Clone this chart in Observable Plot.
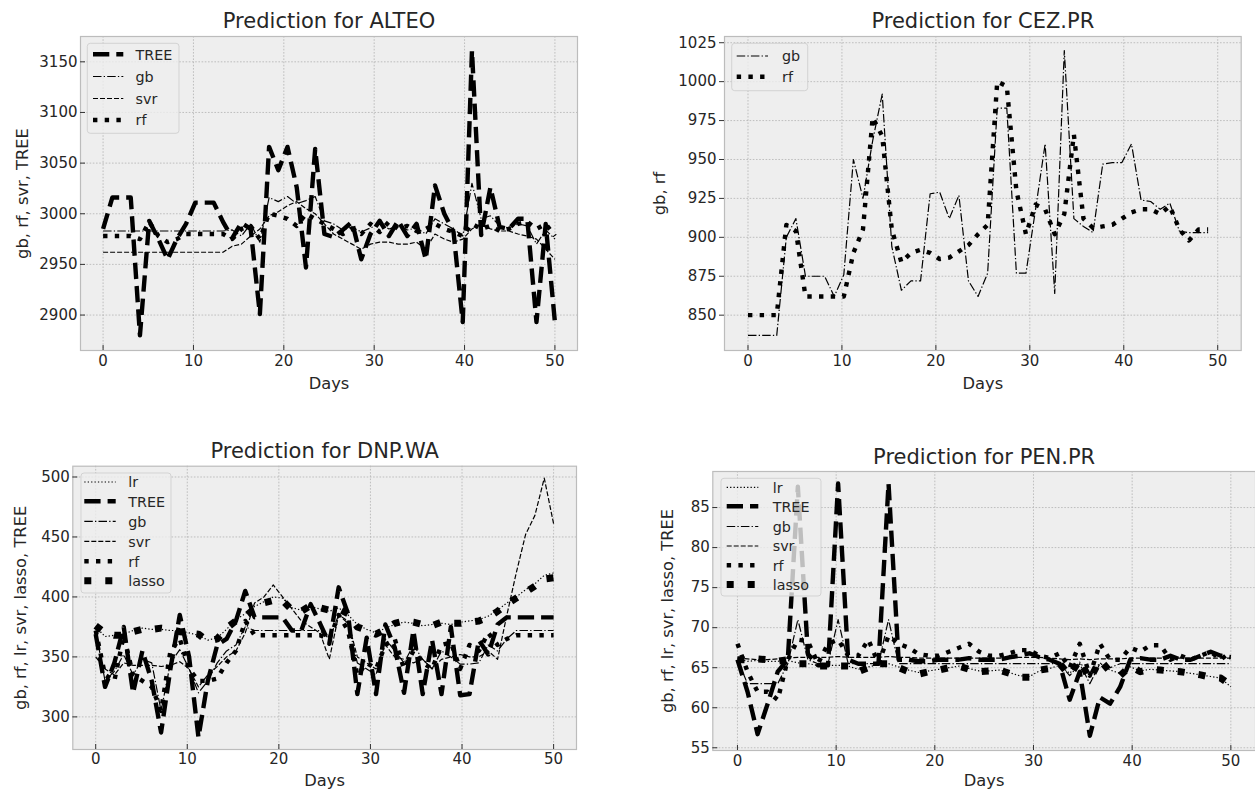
<!DOCTYPE html>
<html><head><meta charset="utf-8">
<script src="https://cdn.jsdelivr.net/npm/d3@7"></script>
<script src="https://cdn.jsdelivr.net/npm/@observablehq/plot@0.6"></script>
<style>
html,body{margin:0;padding:0;background:#fff;}
#wrap{position:relative;width:1255px;height:789px;overflow:hidden;font-family:"DejaVu Sans";}
.panel{position:absolute;}
#legend{position:absolute;left:0;top:0;pointer-events:none;}
</style></head><body><div id="wrap"></div>
<script>
// ---------- DATA ----------
const days = [0, 1.02, 2.04, 3.06, 4.08, 5.10, 6.12, 7.14, 8.16, 9.18, 10.20, 11.22, 12.24, 13.27, 14.29, 15.31, 16.33, 17.35, 18.37, 19.39, 20.41, 21.43, 22.45, 23.47, 24.49, 25.51, 26.53, 27.55, 28.57, 29.59, 30.61, 31.63, 32.65, 33.67, 34.69, 35.71, 36.73, 37.76, 38.78, 39.80, 40.82, 41.84, 42.86, 43.88, 44.90, 45.92, 46.94, 47.96, 48.98, 50];
const dayTicks = [0, 10, 20, 30, 40, 50];

// ALTEO
const alteoTicks = [2900, 2950, 3000, 3050, 3100, 3150];
const alteoTREE = [2985, 3016, 3016, 3016, 2880, 2993, 2975, 2955, 2975, 2990, 3011, 3011, 3011, 2992, 2976, 2991, 2985, 2901, 3066, 3043, 3066, 3026, 2947, 3064, 2980, 2977, 2984, 2992, 2955, 2980, 2993, 2978, 2993, 2978, 2990, 2955, 3028, 3000, 2982, 2893, 3161, 2979, 3026, 2987, 2985, 2995, 2995, 2893, 2990, 2893];
const alteoGB = [2983, 2983, 2983, 2983, 2983, 2983, 2983, 2983, 2983, 2983, 2983, 2983, 2983, 2983, 2984, 2978, 2990, 2972, 3016, 3012, 3017, 3010, 3013, 3017, 2993, 2990, 2984, 2987, 2982, 2986, 2990, 2985, 2988, 2984, 2986, 2980, 2995, 2990, 2985, 2978, 3030, 2995, 2998, 2988, 2986, 2990, 2988, 2970, 2984, 2975];
const alteoSVR = [2962, 2962, 2962, 2962, 2962, 2962, 2962, 2962, 2962, 2962, 2962, 2962, 2962, 2962, 2968, 2970, 2978, 2985, 2998, 3002, 3008, 3012, 3005, 3000, 2990, 2980, 2975, 2970, 2965, 2970, 2972, 2972, 2970, 2970, 2972, 2965, 2980, 2975, 2972, 2975, 2985, 2990, 2985, 2983, 2983, 2980, 2978, 2975, 2965, 2955];
const alteoRF = [2978, 2978, 2978, 2978, 2975, 2992, 2978, 2972, 2975, 2980, 2980, 2980, 2980, 2980, 2975, 2985, 2988, 2975, 3000, 2998, 2995, 2988, 3000, 2995, 2990, 2985, 2980, 2985, 2980, 2990, 2982, 2992, 2985, 2988, 2983, 2985, 2990, 2985, 2982, 2978, 2990, 2985, 2988, 2983, 2985, 2990, 2992, 2985, 2990, 2978];

// CEZ.PR
const cezTicks = [850, 875, 900, 925, 950, 975, 1000, 1025];
const cezGB = [837, 837, 837, 837, 900, 912, 875, 875, 875, 862, 876, 950, 925, 962, 992, 894, 866, 872, 872, 928, 929, 912, 927, 872, 862, 877, 983, 983, 877, 877, 918, 960, 864, 1020, 912, 907, 903, 947, 948, 948, 960, 924, 923, 918, 922, 904, 903, 903, 903];
const cezRF = [850, 850, 850, 850, 908, 904, 862, 862, 862, 862, 862, 890, 905, 977, 965, 905, 884, 890, 892, 890, 886, 887, 891, 895, 902, 908, 1000, 997, 930, 902, 921, 918, 902, 915, 966, 912, 906, 907, 908, 912, 916, 918, 918, 915, 920, 905, 898, 905, 905];

// DNP.WA
const dnpTicks = [300, 350, 400, 450, 500];
const dnpLR = [375, 367, 368, 369, 372, 374, 373, 373, 372, 372, 370, 368, 364, 366, 373, 381, 386, 392, 396, 400, 399, 391, 389, 392, 390, 388, 391, 385, 377, 373, 370, 374, 377, 379, 378, 376, 377, 378, 377, 379, 380, 381, 384, 389, 395, 400, 406, 411, 418, 420];
const dnpTREE = [369, 325, 345, 375, 320, 355, 330, 287, 340, 385, 350, 283, 330, 360, 365, 380, 405, 383, 383, 383, 383, 372, 372, 394, 378, 361, 408, 386, 319, 366, 319, 377, 358, 320, 372, 319, 364, 319, 375, 318, 319, 364, 352, 377, 383, 383, 383, 383, 383, 383];
const dnpGB = [372, 330, 338, 352, 335, 348, 345, 305, 345, 356, 340, 320, 330, 345, 355, 360, 375, 372, 372, 372, 372, 372, 372, 372, 372, 365, 385, 378, 345, 340, 335, 365, 355, 345, 360, 348, 340, 355, 350, 344, 344, 345, 360, 355, 365, 372, 372, 372, 372, 372];
const dnpSVR = [350, 340, 335, 345, 343, 343, 343, 342, 343, 346, 340, 325, 335, 342, 350, 355, 370, 395, 400, 410, 400, 390, 380, 375, 370, 348, 385, 380, 350, 345, 340, 360, 350, 348, 345, 348, 340, 348, 350, 352, 350, 350, 355, 348, 385, 420, 452, 468, 499, 461];
const dnpRF = [372, 335, 330, 368, 335, 330, 325, 305, 355, 365, 340, 330, 330, 332, 345, 355, 380, 368, 368, 368, 368, 368, 368, 368, 368, 365, 385, 372, 335, 345, 340, 360, 365, 340, 355, 345, 340, 360, 362, 340, 360, 355, 370, 360, 365, 368, 368, 368, 368, 368];
const dnpLASSO = [376, 370, 368, 368, 371, 373, 373, 374, 373, 371, 370, 369, 363, 365, 374, 380, 384, 390, 395, 397, 397, 389, 388, 393, 391, 389, 390, 386, 375, 372, 369, 373, 378, 380, 379, 377, 376, 379, 378, 378, 379, 380, 383, 388, 394, 399, 404, 409, 415, 416];

// PEN.PR
const penTicks = [55, 60, 65, 70, 75, 80, 85];
const penLR = [66.1, 65.8, 65.9, 65.8, 65.8, 65.9, 65.6, 65.5, 65.3, 65.3, 65.3, 65.2, 64.8, 65.1, 65.4, 65.5, 65.1, 64.7, 64.4, 64.6, 64.8, 65.0, 65.2, 64.9, 64.6, 64.6, 64.7, 64.4, 64.0, 63.9, 64.6, 64.9, 65.3, 64.3, 65.7, 64.0, 65.6, 64.7, 64.3, 65.1, 64.6, 64.8, 64.7, 64.6, 64.5, 64.3, 64.1, 63.9, 63.7, 62.6];
const penTREE = [66, 62, 56.7, 60.5, 64.5, 66, 87.6, 66.7, 65.3, 65.3, 88, 66, 65.5, 65.5, 65.5, 88, 66, 66, 65.8, 65.8, 66, 66, 66, 66.2, 66, 66, 66, 66.3, 66.5, 66.8, 66.3, 66, 65.5, 61, 64.5, 56.5, 61.3, 60.5, 62.6, 66, 66.2, 66, 66, 66.5, 66, 66, 66.5, 67, 66.5, 66.3];
const penGB = [66, 63, 63, 63, 63, 65.5, 71, 66, 65.5, 65.5, 71, 65.5, 65.5, 65.5, 65.5, 71, 65.5, 65.5, 65.5, 65.5, 65.5, 65.5, 65.5, 65.5, 65.5, 65.5, 65.5, 65.5, 65.5, 65.5, 65.5, 65.5, 65.5, 64, 65.5, 63, 65.5, 65, 65.5, 65.5, 65.5, 65.5, 65.5, 65.5, 65.5, 65.5, 65.5, 65.5, 65.5, 65.5];
const penSVR = [66.2, 66.1, 66.0, 66.0, 66.1, 66.2, 66.3, 66.3, 66.3, 66.3, 66.4, 66.3, 66.3, 66.3, 66.3, 66.4, 66.3, 66.3, 66.2, 66.2, 66.2, 66.2, 66.2, 66.2, 66.2, 66.2, 66.2, 66.2, 66.3, 66.3, 66.3, 66.2, 66.1, 66.0, 66.1, 66.0, 66.1, 66.1, 66.1, 66.2, 66.2, 66.2, 66.2, 66.2, 66.2, 66.2, 66.2, 66.2, 66.2, 66.2];
const penRF = [68, 64.5, 62, 62, 61, 66, 68.5, 68.3, 65.5, 68, 68.5, 66.5, 66.5, 68.5, 65.5, 69, 68, 67.5, 66.7, 66.5, 66.5, 67, 67.5, 68, 67, 66.5, 66.5, 66.8, 67.2, 67.2, 66.5, 66.2, 66.8, 65, 68, 64, 68, 66, 66, 67.5, 67, 67.8, 67.8, 66, 66.5, 66, 66.5, 67, 66, 67];
const penLASSO = [66, 66, 66.1, 66, 65.8, 66, 65.5, 65.5, 65.2, 65.2, 65.2, 65.2, 64.5, 65, 65.5, 65.5, 65, 64.5, 64.2, 64.5, 64.7, 65, 65.2, 64.8, 64.5, 64.6, 64.7, 64.3, 63.8, 63.8, 64.7, 64.9, 65.5, 64, 66, 63.5, 66, 64.5, 64, 65.2, 64.5, 64.8, 64.7, 64.6, 64.5, 64.3, 64.1, 63.8, 63.7, 62.8];

// ---------- STYLE ----------
const lineStyle = {
  TREE: {w: 4.4, dash: "16.3,7"},
  gb:   {w: 1.2, dash: "8.5,2.2,1.3,2.2"},
  svr:  {w: 1.2, dash: "5,2"},
  rf:   {w: 4.4, dash: "4.4,7.3"},
  lr:   {w: 1.2, dash: "1.3,2.1"},
  lasso:{w: 7,   dash: "7,14"}
};

const panels = [
  {title: "Prediction for ALTEO", ylabel: "gb, rf, svr, TREE",
   series: [["TREE", alteoTREE], ["gb", alteoGB], ["svr", alteoSVR], ["rf", alteoRF]],
   yDomain: [2865, 3175], yTicks: alteoTicks,
   pos: {left: 0, top: 0, width: 620, height: 400, mL: 80, mR: 43, mT: 36, mB: 50},
   tickIn: true, xPad: 5, titleDy: -8.7, xlabDy: 38.6, ylabDx: -53,
   legend: {x1: 87.3, y1: 43.3, x2: 179, y2: 133.3, rows: [54.3, 76.5, 98.5, 120], sx1: 93, sx2: 123.3, tx: 135.5}},
  {title: "Prediction for CEZ.PR", ylabel: "gb, rf",
   series: [["gb", cezGB], ["rf", cezRF]],
   yDomain: [827.3, 1029], yTicks: cezTicks,
   pos: {left: 620, top: 0, width: 635, height: 400, mL: 104, mR: 14.3, mT: 36, mB: 50},
   tickIn: false, xPad: 5, titleDy: -8.7, xlabDy: 38.6, ylabDx: -60,
   legend: {x1: 731.7, y1: 43.3, x2: 807.7, y2: 90.7, rows: [56, 76.7], sx1: 736.7, sx2: 768, tx: 782}},
  {title: "Prediction for DNP.WA", ylabel: "gb, rf, lr, svr, lasso, TREE",
   series: [["lr", dnpLR], ["TREE", dnpTREE], ["gb", dnpGB], ["svr", dnpSVR], ["rf", dnpRF], ["lasso", dnpLASSO]],
   yDomain: [272.8, 509], yTicks: dnpTicks,
   pos: {left: 0, top: 400, width: 620, height: 389, mL: 72.3, mR: 44, mT: 65.7, mB: 40},
   tickIn: true, xPad: 4.3, titleDy: -8.4, xlabDy: 36.2, ylabDx: -47.3,
   legend: {x1: 81, y1: 473, x2: 171, y2: 593, rows: [482, 501.3, 521.3, 541.3, 561.3, 580.7], sx1: 84.3, sx2: 115.7, tx: 128.3}},
  {title: "Prediction for PEN.PR", ylabel: "gb, rf, lr, svr, lasso, TREE",
   series: [["lr", penLR], ["TREE", penTREE], ["gb", penGB], ["svr", penSVR], ["rf", penRF], ["lasso", penLASSO]],
   yDomain: [54.66, 89.5], yTicks: penTicks,
   pos: {left: 620, top: 400, width: 635, height: 389, mL: 92.3, mR: 0, mT: 71, mB: 39},
   tickIn: true, xPad: 5, titleDy: -7.7, xlabDy: 35.2, ylabDx: -40.3,
   legend: {x1: 721, y1: 478.3, x2: 821, y2: 596, rows: [487.3, 506.3, 526.5, 546, 565.3, 584.5], sx1: 726.7, sx2: 758.3, tx: 772.7}}
];

const wrap = document.getElementById("wrap");
const txt = "#262626";

function makePanel(p) {
  const marks = [
    Plot.frame({fill: "#eeeeee", stroke: null}),
    Plot.gridX({ticks: dayTicks, stroke: "#b2b2b2", strokeOpacity: 1, strokeWidth: 0.8, strokeDasharray: "1.6,1.6"}),
    Plot.gridY({ticks: p.yTicks, stroke: "#b2b2b2", strokeOpacity: 1, strokeWidth: 0.8, strokeDasharray: "1.6,1.6"})
  ];
  for (const [name, vals] of p.series) {
    const rows = vals.map((v, i) => ({day: days[i], value: v}));
    const s = lineStyle[name];
    marks.push(Plot.line(rows, {x: "day", y: "value", stroke: "#000", strokeWidth: s.w,
      strokeDasharray: s.dash, strokeLinecap: "butt", strokeLinejoin: "round"}));
  }
  marks.push(Plot.frame({stroke: "#bcbcbc", strokeWidth: 1.2}));
  const fmt = d => String(d);
  if (p.tickIn) {
    marks.push(
      Plot.axisX({ticks: dayTicks, tickSize: 0, tickPadding: p.xPad, tickFormat: fmt, fontSize: 15, fill: txt, label: null}),
      Plot.axisX({ticks: dayTicks, tickSize: -5, fill: "none", stroke: "#333", label: null}),
      Plot.axisY({ticks: p.yTicks, tickSize: 0, tickPadding: 3, tickFormat: fmt, fontSize: 15, fill: txt, label: null}),
      Plot.axisY({ticks: p.yTicks, tickSize: -5, fill: "none", stroke: "#333", label: null})
    );
  } else {
    marks.push(
      Plot.axisX({ticks: dayTicks, tickSize: 0, tickPadding: p.xPad, tickFormat: fmt, fontSize: 15, fill: txt, label: null}),
      Plot.axisX({ticks: dayTicks, tickSize: -5, fill: "none", stroke: "#333", label: null}),
      Plot.axisY({ticks: p.yTicks, tickSize: 5, tickPadding: 3, tickFormat: fmt, fontSize: 15, fill: txt, stroke: "#333", label: null})
    );
  }
  marks.push(
    Plot.text([p.title], {text: d => d, frameAnchor: "top", textAnchor: "middle", dy: p.titleDy, lineAnchor: "bottom", fontSize: 21, fill: txt}),
    Plot.text(["Days"], {text: d => d, frameAnchor: "bottom", textAnchor: "middle", dy: p.xlabDy, lineAnchor: "bottom", fontSize: 16.3, fill: txt}),
    Plot.text([p.ylabel], {text: d => d, frameAnchor: "left", textAnchor: "middle", dx: p.ylabDx, rotate: -90, lineAnchor: "bottom", fontSize: 16.3, fill: txt})
  );
  const svg = Plot.plot({
    width: p.pos.width, height: p.pos.height,
    marginLeft: p.pos.mL, marginRight: p.pos.mR, marginTop: p.pos.mT, marginBottom: p.pos.mB,
    x: {domain: [-2.5, 52.5], label: null},
    y: {domain: p.yDomain, label: null},
    style: {fontFamily: "DejaVu Sans", fontSize: "15px", background: "transparent", overflow: "visible"},
    marks
  });
  const div = document.createElement("div");
  div.className = "panel";
  div.style.left = p.pos.left + "px";
  div.style.top = p.pos.top + "px";
  div.appendChild(svg);
  wrap.appendChild(div);
}
panels.forEach(makePanel);

// legends (drawn on top, semi-transparent like matplotlib)
const lg = d3.select(wrap).append("svg").attr("id", "legend").attr("width", 1255).attr("height", 789);
for (const p of panels) {
  const L = p.legend;
  const g = lg.append("g");
  g.append("rect").attr("x", L.x1).attr("y", L.y1).attr("width", L.x2 - L.x1).attr("height", L.y2 - L.y1)
    .attr("rx", 3).attr("fill", "#eeeeee").attr("fill-opacity", 0.8)
    .attr("stroke", "#cccccc").attr("stroke-opacity", 0.8).attr("stroke-width", 1);
  p.series.forEach(([name], k) => {
    const y = L.rows[k];
    const s = lineStyle[name];
    g.append("line").attr("x1", L.sx1).attr("x2", L.sx2).attr("y1", y).attr("y2", y)
      .attr("stroke", "#000").attr("stroke-width", s.w).attr("stroke-dasharray", s.dash);
    g.append("text").attr("x", L.tx).attr("y", y + 5.2).attr("font-family", "DejaVu Sans")
      .attr("font-size", 14.3).attr("fill", txt).text(name);
  });
}
</script></body></html>
